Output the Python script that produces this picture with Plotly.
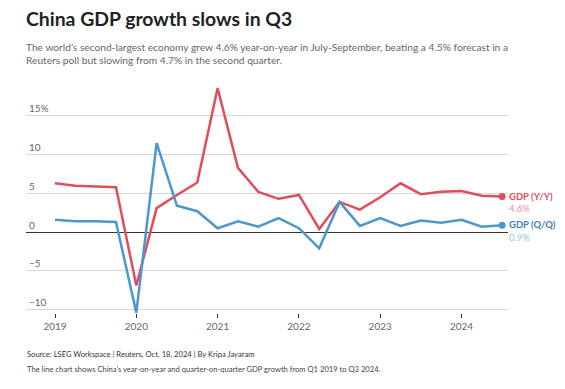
import plotly.graph_objects as go

quarters = ["2019Q1","2019Q2","2019Q3","2019Q4","2020Q1","2020Q2","2020Q3","2020Q4",
            "2021Q1","2021Q2","2021Q3","2021Q4","2022Q1","2022Q2","2022Q3","2022Q4",
            "2023Q1","2023Q2","2023Q3","2023Q4","2024Q1","2024Q2","2024Q3"]
gdp_yy = [6.3, 6.0, 5.9, 5.8, -6.9, 3.1, 4.8, 6.4,
          18.6, 8.3, 5.2, 4.3, 4.8, 0.4, 3.9, 2.9,
          4.5, 6.3, 4.9, 5.2, 5.3, 4.7, 4.6]
gdp_qq = [1.6, 1.4, 1.4, 1.3, -10.4, 11.5, 3.4, 2.7,
          0.5, 1.4, 0.7, 1.8, 0.5, -2.1, 3.9, 0.8,
          1.8, 0.8, 1.5, 1.2, 1.6, 0.7, 0.9]
year_ticks = [2019, 2020, 2021, 2022, 2023, 2024]
y_ticks = [-10, -5, 0, 5, 10, 15]
y_tick_text = ["\u221210", "\u22125", "0", "5", "10", "15%"]

x = [int(q[:4]) + (int(q[-1]) - 1) / 4 for q in quarters]

RED = "#e04e5c"
BLUE = "#4d97cd"
FONT = "Lato"

fig = go.Figure()
fig.add_trace(go.Scatter(x=x, y=gdp_yy, mode="lines", line=dict(color=RED, width=2.5),
                         hoverinfo="skip", showlegend=False))
fig.add_trace(go.Scatter(x=x, y=gdp_qq, mode="lines", line=dict(color=BLUE, width=2.5),
                         hoverinfo="skip", showlegend=False))
fig.add_trace(go.Scatter(x=[x[-1]], y=[gdp_yy[-1]], mode="markers",
                         marker=dict(color=RED, size=7), showlegend=False, cliponaxis=False))
fig.add_trace(go.Scatter(x=[x[-1]], y=[gdp_qq[-1]], mode="markers",
                         marker=dict(color=BLUE, size=7), showlegend=False, cliponaxis=False))

# page has an 8px body margin: all pixel positions below are relative to the figure
OFF = 8
ann = []
ann.append(dict(x=x[-1], y=gdp_yy[-1], xref="x", yref="y", text="<b>GDP (Y/Y)</b>",
                xanchor="left", yanchor="middle", xshift=5, showarrow=False,
                font=dict(family=FONT, size=9.5, color=RED)))
ann.append(dict(x=x[-1], y=gdp_yy[-1], xref="x", yref="y", text=f"{gdp_yy[-1]}%",
                xanchor="left", yanchor="middle", xshift=5, yshift=-12, showarrow=False,
                font=dict(family=FONT, size=9.5, color="#ec8e96")))
ann.append(dict(x=x[-1], y=gdp_qq[-1], xref="x", yref="y", text="<b>GDP (Q/Q)</b>",
                xanchor="left", yanchor="middle", xshift=5, yshift=1, showarrow=False,
                font=dict(family=FONT, size=9.5, color="#3f7fb0")))
ann.append(dict(x=x[-1], y=gdp_qq[-1], xref="x", yref="y", text=f"{gdp_qq[-1]}%",
                xanchor="left", yanchor="middle", xshift=5, yshift=-12, showarrow=False,
                font=dict(family=FONT, size=9.5, color="#95bfdf")))
ann.append(dict(x=24, y=18, xref="paper", yref="paper", text="<b>China GDP growth slows in Q3</b>",
                xanchor="left", yanchor="middle", showarrow=False,
                font=dict(family=FONT, size=19.4, color="#222")))
ann.append(dict(x=24, y=54, xref="paper", yref="paper",
                text="The world\u2019s second-largest economy grew 4.6% year-on-year in July-September, beating a 4.5% forecast in a<br>Reuters poll but slowing from 4.7% in the second quarter.",
                xanchor="left", yanchor="middle", align="left", showarrow=False,
                font=dict(family=FONT, size=10.2, color="#666")))
ann.append(dict(x=25, y=354, xref="paper", yref="paper",
                text="Source: LSEG Workspace | Reuters, Oct. 18, 2024 | By Kripa Jayaram",
                xanchor="left", yanchor="middle", showarrow=False,
                font=dict(family=FONT, size=7.6, color="#333")))
ann.append(dict(x=25, y=369, xref="paper", yref="paper",
                text="The line chart shows China\u2019s year-on-year and quarter-on-quarter GDP growth from Q1 2019 to Q3 2024.",
                xanchor="left", yanchor="middle", showarrow=False,
                font=dict(family=FONT, size=7.6, color="#444")))

W, H = 565 - OFF, 389 - OFF
L, T = 26 - OFF, 85 - OFF
R = W - (508 - OFF)
B = H - (313 - OFF)
pw, ph = W - L - R, H - T - B
for a in ann:
    if a["xref"] == "paper":
        a["x"] = (a["x"] - OFF - L) / pw
        a["y"] = (H - B - (a["y"] - OFF)) / ph

fig.update_layout(
    width=W, height=H,
    margin=dict(l=L, r=R, t=T, b=B),
    paper_bgcolor="white", plot_bgcolor="white",
    font=dict(family=FONT),
    annotations=ann,
    xaxis=dict(range=[2018.643, 2024.572], tickvals=year_ticks, ticktext=[str(v) for v in year_ticks],
               showgrid=False, zeroline=False, showline=False,
               ticks="outside", ticklen=4, tickcolor="#333", tickwidth=1,
               tickfont=dict(family=FONT, size=10, color="#666")),
    yaxis=dict(range=[-10.45, 19], tickvals=y_ticks, ticktext=y_tick_text,
               showgrid=True, gridcolor="#d6d6d6", gridwidth=1,
               zeroline=True, zerolinecolor="#333", zerolinewidth=1,
               showline=False, ticks="", ticklabelposition="inside top",
               tickfont=dict(family=FONT, size=10, color="#666")),
)

fig.write_html("out.html")
